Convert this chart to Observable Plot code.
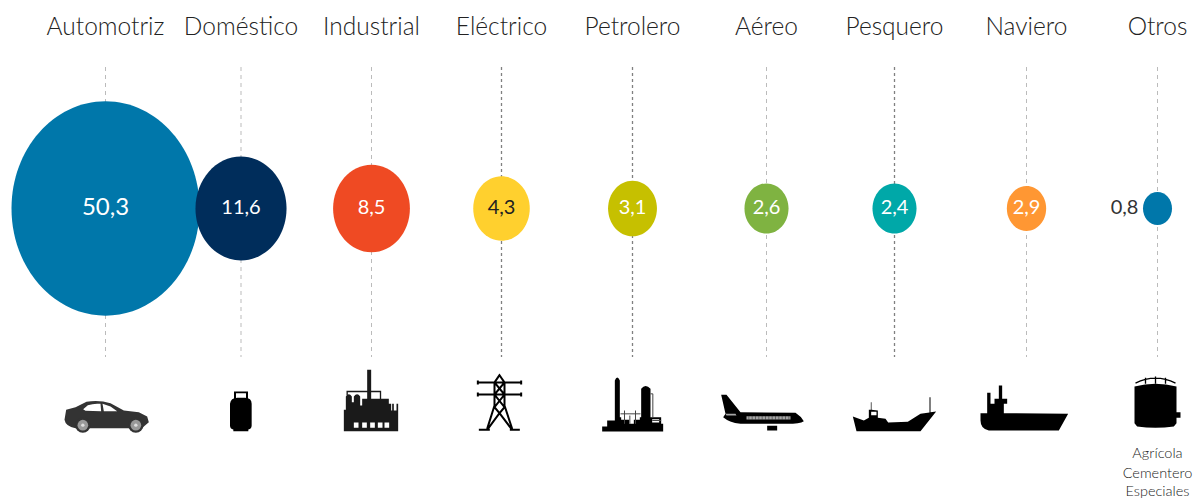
<!DOCTYPE html>
<html><head><meta charset="utf-8">
<script src="https://cdn.jsdelivr.net/npm/d3@7"></script>
<script src="https://cdn.jsdelivr.net/npm/@observablehq/plot@0.6"></script>
<style>html,body{margin:0;padding:0;background:#fff}svg{display:block}</style>
</head><body><div id="chart"></div>
<script>
const categories = ["Automotriz","Doméstico","Industrial","Eléctrico","Petrolero","Aéreo","Pesquero","Naviero","Otros"];
const values = [50.3,11.6,8.5,4.3,3.1,2.6,2.4,2.9,0.8];
// Bubble areas as drawn in the picture, in the same units: they do not track the printed values exactly.
const drawnAreas = [50.3,11.8,8.4,4.55,3.4,2.76,2.76,2.2,1.2];
const colors = ["#0077aa","#002d5b","#ef4a23","#ffd02e","#c6c000","#7fb341","#00a8a8","#ff9733","#0077aa"];
const otherUses = ["Agrícola","Cementero","Especiales"];

const rows = {header:0, ruleTop:1, bubble:2, ruleBottom:3, icon:4, note0:5, note1:6, note2:7};
const font = "Lato, 'Open Sans', sans-serif";
const fmt = v => v.toFixed(1).replace(".", ",");
const table = categories.map((name,i)=>({name,i,value:values[i],area:drawnAreas[i]}));

const ellipse = {draw(ctx,size){
  const rx=Math.sqrt(size/Math.PI), ry=rx*1.14, k=0.5523;
  ctx.moveTo(rx,0);
  ctx.bezierCurveTo(rx,k*ry,k*rx,ry,0,ry);
  ctx.bezierCurveTo(-k*rx,ry,-rx,k*ry,-rx,0);
  ctx.bezierCurveTo(-rx,-k*ry,-k*rx,-ry,0,-ry);
  ctx.bezierCurveTo(k*rx,-ry,rx,-k*ry,rx,0);
  ctx.closePath();
}};

const uri = (cx,inner)=>"data:image/svg+xml,"+encodeURIComponent(
 `<svg xmlns="http://www.w3.org/2000/svg" viewBox="${cx-150} 15 300 210">${inner}</svg>`);
const icons = [
 uri(315,`<path fill="#333" d="M192,178 L197,148 L225,140 L258,124 Q295,118 330,128 L370,150 L415,155 L440,168 L445,185 L430,198 L425,203 L270,203 L225,203 Q195,198 192,178Z"/><path fill="#fff" d="M248,146 L262,134 Q280,128 300,130 L302,152 L255,151Z M306,130 L330,138 L350,152 L310,152Z"/><circle cx="247" cy="194" r="23" fill="#333"/><circle cx="247" cy="194" r="16" fill="#999"/><circle cx="247" cy="194" r="5" fill="#ddd"/><circle cx="406" cy="194" r="23" fill="#333"/><circle cx="406" cy="194" r="16" fill="#999"/><circle cx="406" cy="194" r="5" fill="#ddd"/>`),
 uri(723,`<path d="M702,93 H744 V113 H738 V98 H708 V113 H702Z M690,130 Q692,112 712,112 L735,112 Q755,112 755,130 L755,195 Q755,205 745,207 L745,212 L700,212 L700,207 Q690,205 690,195Z"/>`),
 uri(1113,`<path fill="#1a1a1a" d="M1100,28 H1112 V115 H1165 V130 H1172 V150 H1175 V130 H1180 V150 H1188 V130 H1193 V212 H1030 V148 H1036 V108 Q1045,95 1054,108 V125 H1060 V108 Q1070,95 1079,108 V135 L1085,135 V115 H1100Z"/><path fill="none" stroke="#1a1a1a" stroke-width="4" d="M1040,105 V93 H1140 V118"/><path fill="#fff" d="M1060,186h14v16h-14z M1085,186h14v16h-14z M1109,186h14v16h-14z M1132,186h14v16h-14z M1152,186h14v16h-14z"/>`),
 uri(243,`<path fill="none" stroke="#000" stroke-width="6" d="M172,66 H302 M172,102 H302 M172,60 V72 M302,60 V72 M172,96 V108 M302,96 V108 M237,44 L222,66 L252,102 L222,140 L237,158 L252,140 L222,102 L252,66 Z M222,66 V140 M252,66 V140 M222,135 L200,205 M252,135 L275,205 M237,158 L200,208 M237,158 L275,208 M175,208 H208 M268,208 H298"/>`),
 uri(636,`<path d="M583,60 Q590,42 598,60 V170 H662 V85 Q675,68 690,85 V170 H722 V190 H728 V213 H545 V198 H560 V180 H583Z"/><path fill="#fff" d="M602,150 H658 V178 H640 V190 H626 V178 H602Z M695,176 H716 V186 H695Z"/><path fill="none" stroke="#444" stroke-width="3" d="M600,160 H660 M612,150 V190 M628,165 V190 M645,150 V190 M690,100 H697 V170 M695,180 H722"/>`),
 uri(1038,`<path d="M902,103 H918 L960,155 L1125,157 Q1142,168 1150,182 Q1138,190 1100,190 L960,190 Q925,185 908,170 L915,160Z M1040,196 H1070 V210 H1040Z"/><path fill="#fff" opacity=".65" d="M915,160 H945 L948,165 H918Z M978,167 H1110 V177 H978Z"/><path fill="none" stroke="#000" stroke-width="1.2" d="M985,167 V177 M995,167 V177 M1005,167 V177 M1015,167 V177 M1025,167 V177 M1035,167 V177 M1045,167 V177 M1055,167 V177 M1065,167 V177 M1075,167 V177 M1085,167 V177 M1095,167 V177 M1105,167 V177"/>`),
 uri(222,`<path d="M97,168 L130,180 L145,172 L145,148 H151 V125 H153 V148 L172,150 V172 L195,175 L203,186 L262,184 L300,160 L327,156 V110 H330 V155 L347,153 L300,212 L108,212Z"/><path fill="#fff" d="M152,154h16v10h-16z"/>`),
 uri(618,`<path d="M480,158 H500 V97 H510 V130 H522 V115 H535 V75 H545 V115 H560 V130 H550 V158 L743,160 L715,210 L505,210 Q480,205 480,180Z"/>`),
 uri(1011,`<path fill="none" stroke="#000" stroke-width="4" d="M945,68 Q1005,38 1065,68 M975,52 V70 M1005,48 V70 M1035,52 V70"/><path d="M942,78 Q1005,62 1068,78 V155 H1080 V172 H1068 V188 L1060,198 Q1005,206 950,198 L942,188Z"/>`)
];

const notes = otherUses.map((t,i)=>({t,row:rows.note0+i}));
const inside = table.filter(d=>d.name!=="Otros");
const outside = table.filter(d=>d.name==="Otros");
const lightRule = new Set(["Automotriz","Doméstico","Industrial","Aéreo","Naviero","Otros"]);

const plot = Plot.plot({
  width:1201, height:500, margin:0,
  x:{type:"linear",domain:d3.range(9),range:[105,240.5,371,501,632,766,894,1026,1157],axis:null},
  y:{type:"linear",domain:d3.range(8),range:[27,67,208,357,400,453,473,491],axis:null},
  r:{type:"sqrt",domain:[0,50.3],range:[0,94]},
  color:{type:"ordinal",domain:categories,range:colors},
  marks:[
    Plot.ruleX(table.filter(d=>lightRule.has(d.name)),{x:"i",y1:rows.ruleTop,y2:rows.ruleBottom,strokeDasharray:"4 4",strokeWidth:1,stroke:"#bbb"}),
    Plot.ruleX(table.filter(d=>!lightRule.has(d.name)),{x:"i",y1:rows.ruleTop,y2:rows.ruleBottom,strokeDasharray:"3 3",strokeWidth:1.3,stroke:"#808080"}),
    Plot.dot(table,{x:"i",y:()=>rows.bubble,r:"area",fill:"name",symbol:ellipse}),
    Plot.text(table,{x:"i",y:()=>rows.header,text:"name",fontFamily:font,fontWeight:300,fontSize:24.5,fill:"#222"}),
    Plot.text(inside,{x:"i",y:()=>rows.bubble,dy:-1,text:d=>fmt(d.value),fontFamily:font,
      fontSize:d=>d.value>50?24:20,
      fill:d=>d.name==="Eléctrico"?"#222":"#fff"}),
    Plot.text(outside,{x:"i",y:()=>rows.bubble,dx:-33,dy:-1,text:d=>fmt(d.value),fontFamily:font,fontSize:20,fill:"#333"}),
    Plot.image(table,{x:"i",y:()=>rows.icon,width:100,height:70,src:d=>icons[d.i]}),
    Plot.text(notes,{x:()=>8,y:"row",text:"t",fontFamily:font,fontWeight:300,fontSize:14.5,fill:"#222"})
  ]
});
document.getElementById("chart").append(plot);
</script></body></html>
